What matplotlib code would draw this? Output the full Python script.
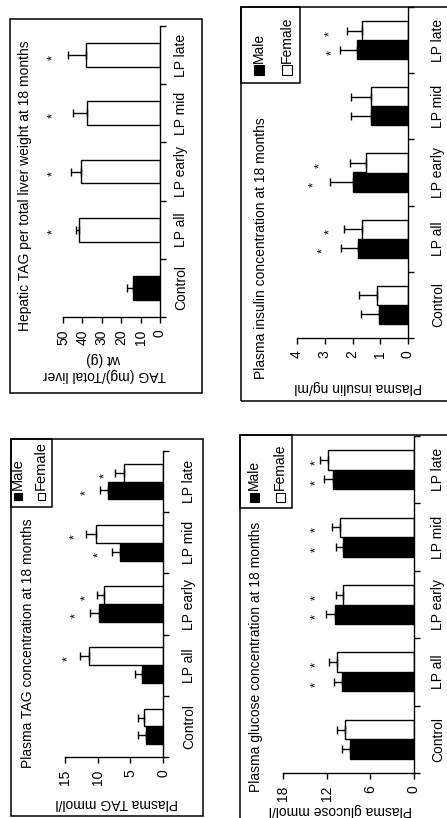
import numpy as np
import matplotlib
matplotlib.use("Agg")
import matplotlib.pyplot as plt
from matplotlib.patches import Rectangle

plt.rcParams['font.family'] = ['Liberation Sans', 'DejaVu Sans']

# groups on the category axis
groups = ['Control', 'LP all', 'LP early', 'LP mid', 'LP late']

# hepatic TAG per total liver weight (one bar per group)
hep_mean = [13.9, 41.8, 40.7, 37.6, 38.1]
hep_sem = [3.1, 1.5, 5.2, 7.2, 9.3]
hep_star = [None, 55.2, 55.2, 55.2, 55.2]

# plasma TAG, mmol/l
tag_male = [2.6, 3.2, 9.8, 6.6, 8.4]
tag_male_sem = [1.2, 1.1, 1.4, 1.2, 1.2]
tag_female = [2.9, 11.3, 9.0, 10.3, 6.0]
tag_female_sem = [1.0, 1.4, 1.1, 1.5, 1.4]
tag_male_star = [None, None, 13.3, 9.8, 11.8]
tag_female_star = [None, 14.5, 11.8, 13.5, 8.9]

# plasma insulin, ng/ml
ins_male = [1.05, 1.8, 2.0, 1.35, 1.85]
ins_male_sem = [0.65, 0.6, 0.8, 0.7, 0.6]
ins_female = [1.1, 1.65, 1.5, 1.35, 1.65]
ins_female_sem = [0.65, 0.65, 0.6, 0.7, 0.55]
ins_male_star = [None, 3.06, 3.39, None, 2.74]
ins_female_star = [None, 2.81, 3.17, None, 2.81]

# plasma glucose, mmol/l
glu_male = [8.8, 9.9, 10.85, 9.75, 11.1]
glu_male_sem = [1.1, 1.1, 1.2, 1.0, 1.2]
glu_female = [9.5, 10.6, 9.75, 10.2, 11.8]
glu_female_sem = [1.1, 1.1, 1.0, 1.1, 1.1]
glu_male_star = [None, 13.5, 13.5, 13.5, 13.5]
glu_female_star = [None, 13.5, 13.5, 13.5, 13.5]

W, H = 447, 818
fig = plt.figure(figsize=(W / 100, H / 100), dpi=100)


def fx(px):
    return px / W


def fy(py):
    return 1 - py / H


def rect_px(x0, y0, x1, y1):
    return [x0 / W, 1 - y1 / H, (x1 - x0) / W, (y1 - y0) / H]


def frame(x0, y0, x1, y1):
    fig.add_artist(Rectangle((fx(x0), fy(y1)), (x1 - x0) / W, (y1 - y0) / H,
                             transform=fig.transFigure, fill=False,
                             edgecolor='black', lw=1.1))


def make_panel(box, xmax, ticks, catpad):
    ax = fig.add_axes(rect_px(*box))
    ax.patch.set_visible(False)
    ax.set_xlim(xmax, 0)
    ax.set_ylim(-0.5, len(groups) - 0.5)
    ax.spines[['top', 'left']].set_visible(False)
    ax.spines[['bottom', 'right']].set_linewidth(1.0)
    ax.yaxis.tick_right()
    ax.set_yticks(range(len(groups)))
    ax.set_yticklabels(groups, rotation=90, va='center', ha='left', fontsize=10)
    ax.set_yticks(np.arange(-0.5, len(groups)), minor=True)
    ax.tick_params(axis='y', which='major', length=0, pad=catpad)
    ax.tick_params(axis='y', which='minor', length=4, width=1.0)
    ax.set_xticks(ticks)
    ax.set_xticklabels([str(t) for t in ticks], rotation=90, fontsize=10)
    ax.tick_params(axis='x', length=4, width=1.0, pad=5)
    return ax


def bars(ax, y, vals, errs, color, h):
    ax.barh(y, vals, height=h, color=color, edgecolor='black', linewidth=1.0)
    ax.errorbar(vals, y, xerr=[np.zeros(len(vals)), errs], fmt='none',
                ecolor='black', elinewidth=1.0, capsize=3, capthick=1.0)


def stars(ax, y, pos):
    for yy, p in zip(y, pos):
        if p is not None:
            ax.text(p, yy - 0.04, '*', rotation=90, ha='center', va='center',
                    fontsize=9, clip_on=False)


def legend(box, male_xy, female_xy, size, fs):
    x0, y0, x1, y1 = box
    frame(x0, y0, x1, y1)
    for (cx, cy), fc, name in [(male_xy, 'black', 'Male'),
                               (female_xy, 'white', 'Female')]:
        fig.add_artist(Rectangle((fx(cx - size / 2), fy(cy + size / 2)),
                                 size / W, size / H, transform=fig.transFigure,
                                 facecolor=fc, edgecolor='black', lw=0.8))
        fig.text(fx(cx), fy(cy - size / 2 - 2), name, rotation=90,
                 ha='center', va='bottom', fontsize=fs)


y = np.arange(len(groups))
bw = 0.29

# hepatic TAG
frame(10, 19, 202, 393)
ax1 = make_panel((63, 26, 160, 317), 50, [0, 10, 20, 30, 40, 50], 10)
colors = ['black'] + ['white'] * 4
ax1.barh(y, hep_mean, height=0.41, color=colors, edgecolor='black', linewidth=1.0)
ax1.errorbar(hep_mean, y, xerr=[np.zeros(5), hep_sem], fmt='none',
             ecolor='black', elinewidth=1.0, capsize=3, capthick=1.0)
stars(ax1, y, hep_star)
fig.text(fx(25), fy(331), 'Hepatic TAG per total liver weight at 18 months',
         rotation=90, ha='center', va='bottom', fontsize=10)
fig.text(fx(104), fy(367), 'TAG (mg)/Total liver\nwt (g)', rotation=180,
         ha='center', va='center', fontsize=10, linespacing=1.1)

# plasma TAG
frame(11, 439, 203, 816)
ax2 = make_panel((65, 451, 163, 757), 15, [0, 5, 10, 15], 14)
bars(ax2, y - bw / 2, tag_male, tag_male_sem, 'black', bw)
bars(ax2, y + bw / 2, tag_female, tag_female_sem, 'white', bw)
stars(ax2, y - bw / 2, tag_male_star)
stars(ax2, y + bw / 2, tag_female_star)
fig.text(fx(28), fy(768), 'Plasma TAG concentration at 18 months',
         rotation=90, ha='center', va='bottom', fontsize=10)
fig.text(fx(117), fy(803), 'Plasma TAG mmol/l', rotation=180,
         ha='center', va='center', fontsize=10)
legend((11, 439, 52, 507), (18, 496), (41, 496), 7, 10.5)

# plasma insulin
frame(241, 7, 470, 401)
ax3 = make_panel((297, 7, 408, 338), 4, [0, 1, 2, 3, 4], 16.5)
bars(ax3, y - bw / 2, ins_male, ins_male_sem, 'black', bw)
bars(ax3, y + bw / 2, ins_female, ins_female_sem, 'white', bw)
stars(ax3, y - bw / 2, ins_male_star)
stars(ax3, y + bw / 2, ins_female_star)
fig.text(fx(261), fy(379), 'Plasma insulin concentration at 18 months',
         rotation=90, ha='center', va='bottom', fontsize=10)
fig.text(fx(358), fy(387), 'Plasma insulin ng/ml', rotation=180,
         ha='center', va='center', fontsize=10)
legend((241, 7, 300, 83), (259, 70), (287, 70), 10, 10)

# plasma glucose
frame(240, 435, 470, 830)
ax4 = make_panel((283, 436, 414, 773), 18, [0, 6, 12, 18], 12.5)
bars(ax4, y - bw / 2, glu_male, glu_male_sem, 'black', bw)
bars(ax4, y + bw / 2, glu_female, glu_female_sem, 'white', bw)
stars(ax4, y - bw / 2, glu_male_star)
stars(ax4, y + bw / 2, glu_female_star)
fig.text(fx(256), fy(792), 'Plasma glucose concentration at 18 months',
         rotation=90, ha='center', va='bottom', fontsize=10)
fig.text(fx(340), fy(810), 'Plasma glucose mmol/l', rotation=180,
         ha='center', va='center', fontsize=10)
legend((240, 435, 292, 508), (254, 497), (280, 497), 9, 10)

fig.savefig('out.png', dpi=100)
